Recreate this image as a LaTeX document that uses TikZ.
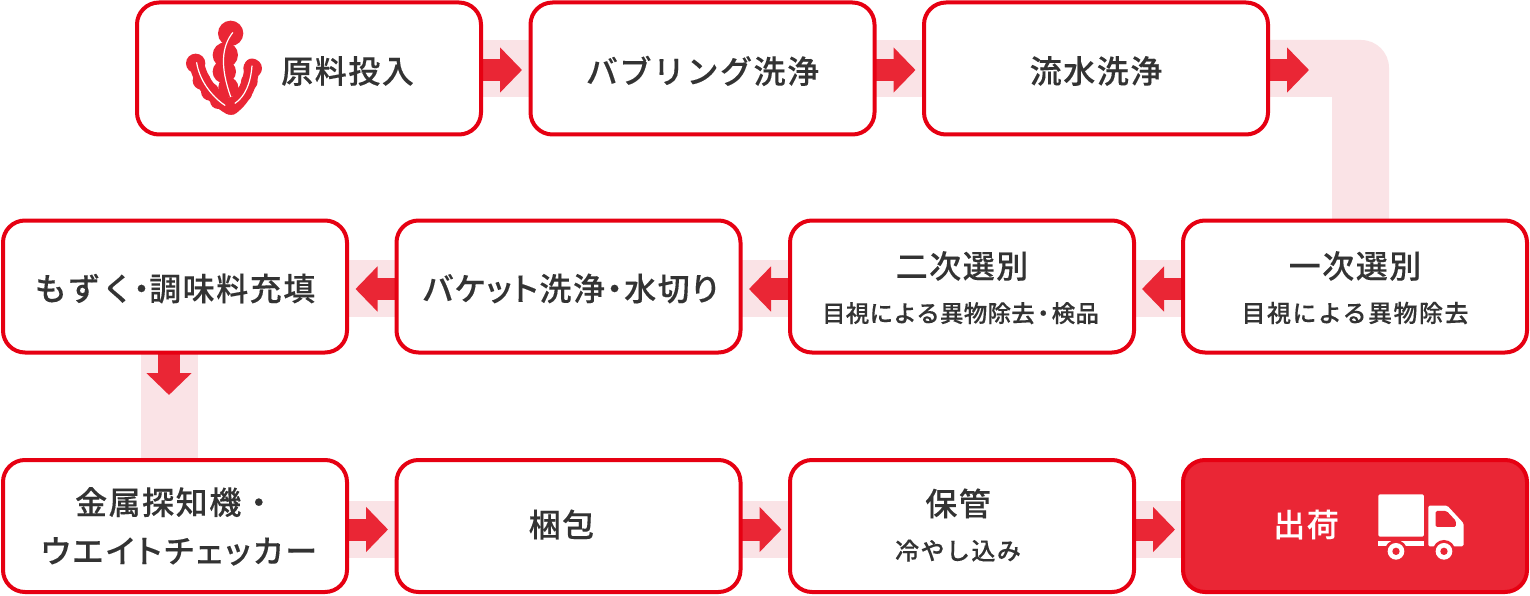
\documentclass[tikz,border=0pt]{standalone}
\usepackage{fontspec}
\usetikzlibrary{arrows.meta,backgrounds,calc}
\newfontfamily\jpfont[LetterSpace=4.8,FakeBold=0.2]{Noto Sans CJK JP Medium}
\newfontfamily\jppalt[LetterSpace=5,FakeBold=0.2,RawFeature={+palt}]{Noto Sans CJK JP Medium}
\newfontfamily\jpwide[LetterSpace=8.5,FakeBold=0.2,RawFeature={+palt}]{Noto Sans CJK JP Medium}
\newfontfamily\jpsub[LetterSpace=6,FakeBold=0.2]{Noto Sans CJK JP Medium}
\newfontfamily\jpsubn[LetterSpace=1,FakeBold=0.2]{Noto Sans CJK JP Medium}
\newcommand{\mainsz}{\jpfont\fontsize{32}{36}\selectfont}
\newcommand{\subsz}{\jpsub\fontsize{24}{28}\selectfont}
\newcommand{\subnar}{\jpsubn\fontsize{23.5}{28}\selectfont}
\newcommand{\nd}{\kern-0.26em ・\kern-0.26em }
\newcommand{\mv}[2]{\raisebox{-#1pt}[\height][\depth]{\begin{tabular}{@{}c@{}}#2\end{tabular}}}
\definecolor{redline}{HTML}{E60012}
\definecolor{redfill}{HTML}{EA2635}
\definecolor{pale}{HTML}{FAE3E6}
\definecolor{ink}{HTML}{333333}
\tikzset{
  boxnode/.style={draw=redline,line width=4pt,fill=white,rounded corners=22pt,minimum width=344pt,minimum height=132pt,inner sep=0pt,outer sep=0pt,text=ink,font=\mainsz},
  hotbox/.style={boxnode,fill=redfill,text=white},
  paleband/.style={draw=pale,line width=57pt},
  fatarrow/.style={draw=redfill,line width=22pt,-{Triangle[length=22pt,width=44pt,color=redfill]}},
  weedblob/.style={fill=redfill},
  weedstem/.style={draw=redfill,line width=15pt,line cap=round},
  weedvein/.style={draw=white,line width=1.2pt,line cap=round},
}
\begin{document}
\begin{tikzpicture}[x=1pt,y=-1pt]
\useasboundingbox (0,0) rectangle (1530,596);
\begin{scope}[on background layer]
\fill[white] (0,0) rectangle (1530,596);
\end{scope}
% row 1
\node[boxnode] (a1) at (309,68.5) {\hspace*{77pt}\mv{6.5}{原料投入}};
\node[boxnode] (a2) at (702.5,68.5) {\mv{6.5}{バブリング洗浄}};
\node[boxnode] (a3) at (1096,68.5) {\mv{6.5}{流水洗浄}};
% row 2
\node[boxnode] (b1) at (1355,286.5) {\mv{5.5}{一次選別\\[8pt]{\subsz 目視による異物除去}}};
\node[boxnode] (b2) at (962,286.5) {\mv{5.5}{二次選別\\[8pt]{\subnar 目視による異物除去\kern-0.14em ・\kern-0.14em 検品\hspace*{3pt}}}};
\node[boxnode] (b3) at (568.5,286.5) {\hspace*{4pt}\mv{6}{{\jppalt\fontsize{32}{36}\selectfont バケット洗浄・水切り}}};
\node[boxnode] (b4) at (175,286.5) {\mv{6}{もずく\nd 調味料充填}};
% row 3
\node[boxnode] (c1) at (175,526) {\mv{4.5}{金属探知機・\\[12pt]\hspace*{8pt}{\jpwide\fontsize{32}{36}\selectfont ウエイトチェッカー}}};
\node[boxnode] (c2) at (568.5,526) {\mv{2.5}{梱包}\hspace*{14pt}};
\node[boxnode] (c3) at (962,526) {\mv{3.5}{保管\\[8pt]{\subsz 冷やし込み}}\hspace*{8pt}};
\node[hotbox] (c4) at (1355,526) {\mv{2.5}{出荷}\hspace*{98pt}};
% free ends of the arrows
\coordinate (t1) at ($(a1.east)+(41,1.5)$);
\coordinate (t2) at ($(a2.east)+(41,1.5)$);
\coordinate (t3) at ($(a3.east)+(41,1.5)$);
\coordinate (t4) at ($(b1.west)+(-41,2.5)$);
\coordinate (t5) at ($(b2.west)+(-41,2.5)$);
\coordinate (t6) at ($(b3.west)+(-41,2.5)$);
\coordinate (s7) at ($(b4.south)+(-6,0)$);
\coordinate (t7) at ($(s7)+(0,42.5)$);
\coordinate (t8) at ($(c1.east)+(41,3.5)$);
\coordinate (t9) at ($(c2.east)+(41,3.5)$);
\coordinate (t10) at ($(c3.east)+(41,3.5)$);
\begin{scope}[on background layer]
  \draw[paleband] (a1.east) -- (a2.west);
  \draw[paleband] (a2.east) -- (a3.west);
  \fill[pale] ($(a3.east)+(0,-28.5)$) -- (1361,40) .. controls (1376.5,40) and (1389,52.5) .. (1389,68) -- (1389,221) -- (1332,221) -- (1332,97) -- ($(a3.east)+(0,28.5)$) -- cycle;
  \draw[paleband] ([yshift=-2pt]b1.west) -- ([yshift=-2pt]b2.east);
  \draw[paleband] ([yshift=-2pt]b2.west) -- ([yshift=-2pt]b3.east);
  \draw[paleband] ([yshift=-2pt]b3.west) -- ([yshift=-2pt]b4.east);
  \draw[paleband] (s7) -- (s7 |- c1.north);
  \draw[paleband] ([yshift=-3pt]c1.east) -- ([yshift=-3pt]c2.west);
  \draw[paleband] ([yshift=-3pt]c2.east) -- ([yshift=-3pt]c3.west);
  \draw[paleband] ([yshift=-3pt]c3.east) -- ([yshift=-3pt]c4.west);
  \draw[fatarrow] ([yshift=-1.5pt]a1.east) -- (t1);
  \draw[fatarrow] ([yshift=-1.5pt]a2.east) -- (t2);
  \draw[fatarrow] ([yshift=-1.5pt]a3.east) -- (t3);
  \draw[fatarrow] ([yshift=-2.5pt]b1.west) -- (t4);
  \draw[fatarrow] ([yshift=-2.5pt]b2.west) -- (t5);
  \draw[fatarrow] ([yshift=-2.5pt]b3.west) -- (t6);
  \draw[fatarrow] (s7) -- (t7);
  \draw[fatarrow] ([yshift=-3.5pt]c1.east) -- (t8);
  \draw[fatarrow] ([yshift=-3.5pt]c2.east) -- (t9);
  \draw[fatarrow] ([yshift=-3.5pt]c3.east) -- (t10);
\end{scope}
% seaweed icon
\begin{scope}[shift={(130,0)},x=0.3333pt,y=-0.3333pt]
  \fill[weedblob] (302,100) circle[radius=38];
  \fill[weedblob] (286,165) circle[radius=38];
  \fill[weedblob] (283,215) circle[radius=35];
  \fill[weedblob] (295,262) circle[radius=30];
  \fill[weedblob] (302,315) circle[radius=24];
  \fill[weedblob] (197,190) circle[radius=29];
  \fill[weedblob] (368,205) circle[radius=28];
  \draw[weedstem] (200,188) .. controls (208,240) and (245,290) .. (300,322);
  \draw[weedstem] (366,198) .. controls (362,250) and (345,290) .. (305,322);
  \fill[weedblob] (215,242) circle[radius=27];
  \fill[weedblob] (240,275) circle[radius=27];
  \fill[weedblob] (265,302) circle[radius=25];
  \fill[weedblob] (358,245) circle[radius=25];
  \fill[weedblob] (342,280) circle[radius=24];
  \draw[weedvein] (308,98) .. controls (275,140) and (270,200) .. (302,290);
  \draw[weedvein] (200,188) .. controls (208,240) and (245,290) .. (285,316);
  \draw[weedvein] (366,198) .. controls (362,250) and (345,290) .. (315,310);
\end{scope}
% truck icon
\begin{scope}[shift={(1130,440)},x=0.3333pt,y=-0.3333pt]
  \fill[white,rounded corners=1.5pt] (745,163) rectangle (882,290);
  \fill[white] (745,302) -- (882,302) -- (882,319) -- (745,319) -- cycle;
  \fill[white,rounded corners=1.5pt] (895,197) -- (952,197) -- (1001,250) -- (1001,319) -- (895,319) -- cycle;
  \fill[redfill,rounded corners=1.5pt] (917,213) -- (950,213) -- (978,243) -- (978,261) -- (917,261) -- cycle;
  \fill[redfill] (798,334) circle[radius=34];
  \fill[redfill] (942,334) circle[radius=34];
  \fill[white] (798,334) circle[radius=25];
  \fill[white] (942,334) circle[radius=25];
  \fill[redfill] (798,334) circle[radius=11];
  \fill[redfill] (942,334) circle[radius=11];
\end{scope}
\end{tikzpicture}
\end{document}
